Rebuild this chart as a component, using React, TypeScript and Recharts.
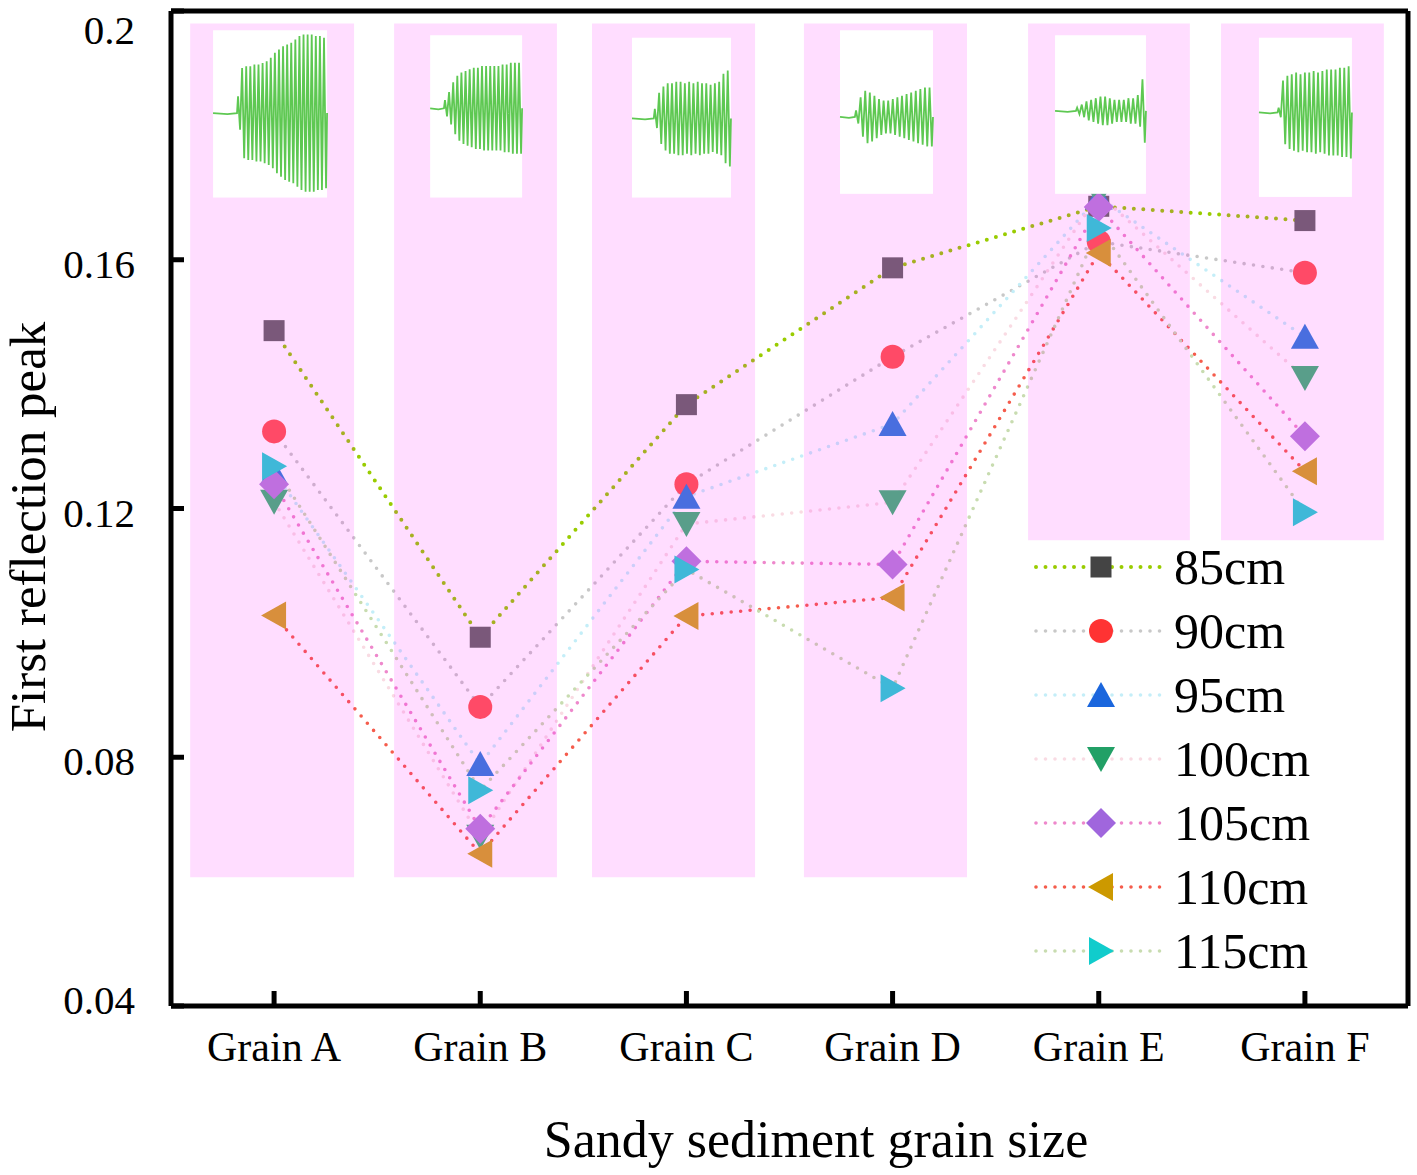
import React from 'react';
import { LineChart, Line, XAxis, YAxis, ReferenceArea } from 'recharts';

// ---------- data ----------
const categories = ['Grain A', 'Grain B', 'Grain C', 'Grain D', 'Grain E', 'Grain F'];
const seriesNames = ['85cm', '90cm', '95cm', '100cm', '105cm', '110cm', '115cm'];
const s85 = [0.1486, 0.0993, 0.1367, 0.1587, 0.1686, 0.1663];
const s90 = [0.1324, 0.0881, 0.1239, 0.1444, 0.1629, 0.1579];
const s95 = [0.1258, 0.0789, 0.1219, 0.1336, 0.1700, 0.1476];
const s100 = [0.1211, 0.0672, 0.1175, 0.1210, 0.1705, 0.1410];
const s105 = [0.1239, 0.0685, 0.1115, 0.1110, 0.1685, 0.1316];
const s110 = [0.1028, 0.0645, 0.1027, 0.1057, 0.1611, 0.1260];
const s115 = [0.1268, 0.0747, 0.1102, 0.0911, 0.1651, 0.1194];
const yTicks = [0.04, 0.08, 0.12, 0.16, 0.2];

// waveform envelope amplitudes of the inset signals (fraction of inset height)
const waveA = [0.1, 0.27, 0.28, 0.28, 0.29, 0.29, 0.3, 0.31, 0.33, 0.36, 0.38, 0.4, 0.41, 0.42, 0.44, 0.46, 0.47, 0.47, 0.47, 0.46, 0.46, 0.45];
const waveB = [0.05, 0.1, 0.16, 0.2, 0.22, 0.23, 0.24, 0.25, 0.25, 0.26, 0.26, 0.26, 0.26, 0.26, 0.27, 0.27, 0.28, 0.28, 0.28];
const waveC = [0.06, 0.16, 0.2, 0.22, 0.22, 0.23, 0.23, 0.22, 0.23, 0.22, 0.23, 0.22, 0.22, 0.21, 0.22, 0.23, 0.28, 0.3];
const waveD = [0.04, 0.12, 0.16, 0.15, 0.13, 0.11, 0.1, 0.1, 0.11, 0.12, 0.13, 0.14, 0.15, 0.16, 0.17, 0.18, 0.18];
const waveE = [0.02, 0.04, 0.06, 0.07, 0.08, 0.09, 0.09, 0.08, 0.07, 0.07, 0.07, 0.08, 0.08, 0.1, 0.2];
const waveF = [0.03, 0.2, 0.23, 0.24, 0.25, 0.24, 0.25, 0.25, 0.26, 0.25, 0.26, 0.27, 0.27, 0.27, 0.28, 0.28, 0.29];

// ---------- layout / style constants ----------
const allSeries = [s85, s90, s95, s100, s105, s110, s115];
const keys = ['s85', 's90', 's95', 's100', 's105', 's110', 's115'];
const shapes = ['square', 'circle', 'up', 'down', 'diamond', 'left', 'right'];
const lineColors = ['#99cc00', '#c8c8c8', '#c4eef8', '#f9dbe3', '#ee88cc', '#f55c4c', '#c8dcb0'];
const plotMarkerColors = ['#666666', '#ff5650', '#2e7fdb', '#40b778', '#b681db', '#d2a61e', '#22d5d2'];
const legendMarkerColors = ['#444444', '#ff3333', '#1a66dd', '#22a066', '#a066dd', '#cc9900', '#11cccc'];

const pinkBands = [
  { x1: -0.407, x2: 0.388, y1: 0.0607, y2: 0.198 },
  { x1: 0.582, x2: 1.372, y1: 0.0607, y2: 0.198 },
  { x1: 1.542, x2: 2.333, y1: 0.0607, y2: 0.198 },
  { x1: 2.570, x2: 3.361, y1: 0.0607, y2: 0.198 },
  { x1: 3.657, x2: 4.442, y1: 0.1149, y2: 0.198 },
  { x1: 4.593, x2: 5.383, y1: 0.1149, y2: 0.198 },
];

const insets = [
  { x1: -0.296, x2: 0.257, y1: 0.1700, y2: 0.1969, tail: 0.21, base: 0.495, amps: waveA },
  { x1: 0.757, x2: 1.203, y1: 0.1700, y2: 0.1961, tail: 0.15, base: 0.45, amps: waveB },
  { x1: 1.736, x2: 2.216, y1: 0.1700, y2: 0.1957, tail: 0.22, base: 0.505, amps: waveC },
  { x1: 2.745, x2: 3.196, y1: 0.1706, y2: 0.1969, tail: 0.16, base: 0.53, amps: waveD },
  { x1: 3.788, x2: 4.229, y1: 0.1706, y2: 0.1961, tail: 0.23, base: 0.477, amps: waveE },
  { x1: 4.777, x2: 5.228, y1: 0.1701, y2: 0.1957, tail: 0.2, base: 0.469, amps: waveF },
];

const rows = categories.map((name, i) => {
  const r: any = { idx: i, name };
  keys.forEach((k, j) => { r[k] = allSeries[j][i]; });
  return r;
});

const FONT = '"Liberation Serif", "Times New Roman", Times, serif';

function Marker({ shape, cx, cy, fill }: { shape: string; cx: number; cy: number; fill: string }) {
  switch (shape) {
    case 'square':
      return <rect x={cx - 10.5} y={cy - 10.5} width={21} height={21} fill={fill} />;
    case 'circle':
      return <circle cx={cx} cy={cy} r={12} fill={fill} />;
    case 'up':
      return <polygon points={`${cx},${cy - 13} ${cx - 14},${cy + 12} ${cx + 14},${cy + 12}`} fill={fill} />;
    case 'down':
      return <polygon points={`${cx},${cy + 13} ${cx - 14},${cy - 12} ${cx + 14},${cy - 12}`} fill={fill} />;
    case 'diamond':
      return <polygon points={`${cx},${cy - 15} ${cx + 15},${cy} ${cx},${cy + 15} ${cx - 15},${cy}`} fill={fill} />;
    case 'left':
      return <polygon points={`${cx - 13},${cy} ${cx + 12},${cy - 14} ${cx + 12},${cy + 14}`} fill={fill} />;
    case 'right':
      return <polygon points={`${cx + 13},${cy} ${cx - 12},${cy - 14} ${cx - 12},${cy + 14}`} fill={fill} />;
    default:
      return null;
  }
}

function YTick(props: any) {
  const { x, y, payload } = props;
  const center = Math.min(Math.max(y + 4, 30), 1000);
  return (
    <g>
      <line x1={x} y1={y} x2={x + 13} y2={y} stroke="#000" strokeWidth={5} />
      <text x={x - 36} y={center + 14} textAnchor="end" fontFamily={FONT} fontSize={41} fill="#000">
        {String(payload.value)}
      </text>
    </g>
  );
}

function XTick(props: any) {
  const { x, y, payload } = props;
  return (
    <g>
      <line x1={x} y1={y} x2={x} y2={y - 15} stroke="#000" strokeWidth={5} />
      <text x={x} y={y + 55} textAnchor="middle" fontFamily={FONT} fontSize={42} fill="#000">
        {categories[payload.value]}
      </text>
    </g>
  );
}

function insetShape(inset: any) {
  return (p: any) => {
    const { x, y, width, height } = p;
    const by = y + inset.base * height;
    const startX = x + inset.tail * width;
    const n = inset.amps.length;
    const sp = (width * (1 - inset.tail)) / n;
    const pts: string[] = [`${x},${by}`, `${x + inset.tail * width * 0.6},${by + 1}`, `${startX},${by}`];
    inset.amps.forEach((a: number, k: number) => {
      pts.push(`${startX + (k + 0.25) * sp},${by - a * height}`);
      pts.push(`${startX + (k + 0.75) * sp},${by + a * height}`);
    });
    pts.push(`${x + width},${by}`);
    return (
      <g>
        <rect x={x} y={y} width={width} height={height} fill="#ffffff" />
        <polyline points={pts.join(' ')} fill="none" stroke="#5ec852" strokeWidth={1.8} strokeLinejoin="miter" />
      </g>
    );
  };
}

function LegendBox() {
  const rowY = (i: number) => 32 + i * 64;
  return (
    <div style={{ position: 'absolute', left: 1030, top: 535, width: 340, height: 450 }}>
      <svg width={340} height={450}>
        {seriesNames.map((n, i) => (
          <g key={n}>
            <line x1={6} y1={rowY(i)} x2={130} y2={rowY(i)} stroke={lineColors[i]} strokeWidth={i === 0 ? 4 : 3.6}
              strokeDasharray="0 9.5" strokeLinecap="round" />
            <Marker shape={shapes[i]} cx={71} cy={rowY(i)} fill={legendMarkerColors[i]} />
            <text x={144} y={rowY(i) + 17} fontFamily={FONT} fontSize={50} fill="#000">{n}</text>
          </g>
        ))}
      </svg>
    </div>
  );
}

export default function App() {
  return (
    <div style={{ position: 'absolute', left: 0, top: 0, width: 1417, height: 1175, background: '#fff' }}>
      <LineChart width={1417} height={1175} data={rows} margin={{ top: 10, right: 8, bottom: 168, left: 170 }}>
        <XAxis dataKey="idx" type="number" domain={[-0.5, 5.5]} ticks={[0, 1, 2, 3, 4, 5]} height={1}
          tickSize={0} tickMargin={0} tickLine={false} axisLine={{ stroke: '#000', strokeWidth: 5 }} tick={<XTick />}
          interval={0} allowDataOverflow />
        <XAxis xAxisId="top" orientation="top" dataKey="idx" type="number" domain={[-0.5, 5.5]} height={1}
          tick={false} tickLine={false} axisLine={{ stroke: '#000', strokeWidth: 5 }} />
        <YAxis type="number" domain={[0.04, 0.2]} ticks={yTicks} width={1} tickSize={0} tickMargin={0}
          tickLine={false} axisLine={{ stroke: '#000', strokeWidth: 5 }} tick={<YTick />} interval={0} allowDataOverflow />
        <YAxis yAxisId="right" orientation="right" type="number" domain={[0.04, 0.2]} width={1} tick={false}
          tickLine={false} axisLine={{ stroke: '#000', strokeWidth: 5 }} />
        {keys.map((k, i) => (
          <Line key={k} dataKey={k} type="linear" stroke={lineColors[i]} strokeWidth={i === 0 ? 4 : 3.6}
            strokeDasharray="0 9.5" strokeLinecap="round" isAnimationActive={false} activeDot={false}
            dot={(p: any) => <Marker key={`${k}-${p.index}`} shape={shapes[i]} cx={p.cx} cy={p.cy} fill={plotMarkerColors[i]} />} />
        ))}
        {pinkBands.map((b, i) => (
          <ReferenceArea key={`pb${i}`} x1={b.x1} x2={b.x2} y1={b.y1} y2={b.y2} fill="#ff00ff" fillOpacity={0.135}
            stroke="none" ifOverflow="visible" zIndex={5000} />
        ))}
        {insets.map((b, i) => (
          <ReferenceArea key={`in${i}`} x1={b.x1} x2={b.x2} y1={b.y1} y2={b.y2} ifOverflow="visible" zIndex={5001}
            shape={insetShape(b)} />
        ))}
      </LineChart>
      <svg style={{ position: 'absolute', left: 0, top: 0, pointerEvents: 'none' }} width={1417} height={1175}>
        <text transform="translate(45,527) rotate(-90)" textAnchor="middle" fontFamily={FONT} fontSize={51} fill="#000">
          First reflection peak
        </text>
        <text x={816} y={1157} textAnchor="middle" fontFamily={FONT} fontSize={52} fill="#000">
          Sandy sediment grain size
        </text>
      </svg>
      <LegendBox />
    </div>
  );
}
